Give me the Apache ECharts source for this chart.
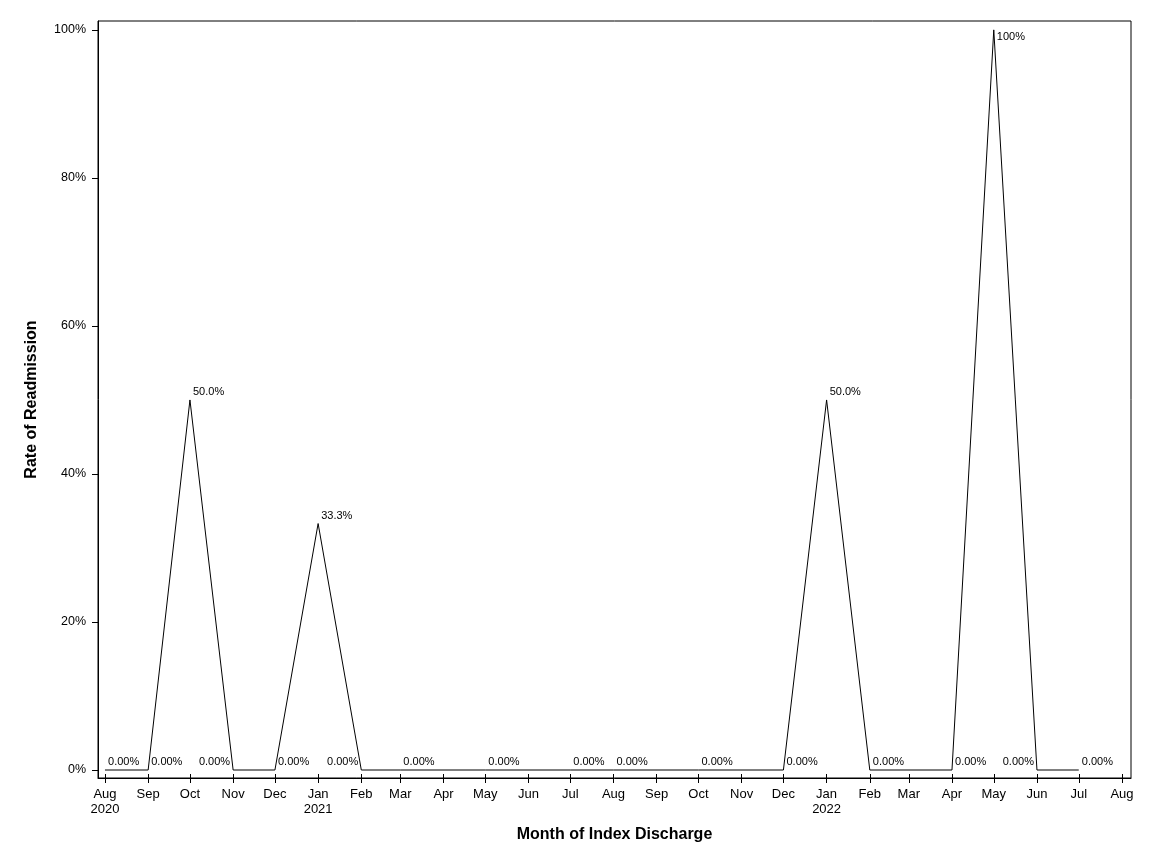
<!DOCTYPE html>
<html>
<head>
<meta charset="utf-8">
<script src="https://cdn.jsdelivr.net/npm/echarts@6/dist/echarts.min.js"></script>
<style>
  html, body { margin: 0; padding: 0; background: #fff; }
  #chart { width: 1152px; height: 864px; }
</style>
</head>
<body>
<div id="chart"></div>
<script>
// months with an index discharge (YYYY-MM) and readmission rate in percent
const months = ['2020-08', '2020-09', '2020-10', '2020-11', '2020-12', '2021-01', '2021-02',
    '2021-03', '2021-05', '2021-07', '2021-08', '2021-10', '2021-12',
    '2022-01', '2022-02', '2022-04', '2022-05', '2022-06', '2022-07'];
const rates = [0, 0, 50, 0, 0, 33.3, 0,
    0, 0, 0, 0, 0, 0,
    50, 0, 0, 100, 0, 0];

// x tick labels, one per month starting Aug 2020
const tickLabels = ['Aug\n2020', 'Sep', 'Oct', 'Nov', 'Dec', 'Jan\n2021', 'Feb', 'Mar', 'Apr', 'May', 'Jun', 'Jul',
    'Aug', 'Sep', 'Oct', 'Nov', 'Dec', 'Jan\n2022', 'Feb', 'Mar', 'Apr', 'May', 'Jun', 'Jul', 'Aug'];
const yTicks = [0, 20, 40, 60, 80, 100];

const toTime = function (ym) {
    let parts = ym.split('-');
    return Date.UTC(+parts[0], +parts[1] - 1, 1);
};

const tickTimes = tickLabels.map((l, i) => Date.UTC(2020, 7 + i, 1));
const tickText = {};
tickTimes.forEach((t, i) => { tickText[t] = tickLabels[i]; });

// labels that SAS moved: to the left of the point, or below it at the top edge
const labelLeft = ['2020-11', '2021-02', '2022-06'];
const labelBelow = ['2022-05'];

const fmtRate = function (v) {
    return (v === 100 ? '100' : v.toPrecision(3)) + '%';
};

const seriesData = months.map((m, i) => {
    let left = labelLeft.indexOf(m) >= 0;
    let dy = labelBelow.indexOf(m) >= 0 ? 7 : -8;
    return {
        value: [toTime(m), rates[i]],
        label: {
            position: left ? 'left' : 'right',
            distance: 3,
            offset: [0, dy]
        }
    };
});

// time range kept as plain numbers on a value axis
const xMin = Date.UTC(2020, 6, 27);
const xMax = Date.UTC(2022, 7, 7, 12);
const font = '"Liberation Sans", Arial, sans-serif';

const chart = echarts.init(document.getElementById('chart'), null, { renderer: 'canvas' });

chart.setOption({
    animation: false,
    backgroundColor: '#fff',
    textStyle: { fontFamily: font, color: '#000' },
    grid: {
        left: 98,
        right: 21,
        top: 21,
        bottom: 86,
        show: true,
        borderColor: '#000',
        borderWidth: 1,
        backgroundColor: 'transparent'
    },
    xAxis: [{
        type: 'value',
        min: xMin,
        max: xMax,
        position: 'bottom',
        name: 'Month of Index Discharge',
        nameLocation: 'middle',
        nameGap: 49,
        nameTextStyle: { fontSize: 16, fontWeight: 'bold', color: '#000', fontFamily: font },
        axisLine: { show: true, onZero: false, lineStyle: { color: '#000', width: 1 } },
        axisTick: {
            show: true,
            inside: false,
            length: 5,
            customValues: tickTimes,
            lineStyle: { color: '#000' }
        },
        axisLabel: {
            customValues: tickTimes,
            margin: 9,
            fontSize: 13,
            lineHeight: 15,
            color: '#000',
            fontFamily: font,
            hideOverlap: false,
            formatter: function (v) { return tickText[v] || ''; }
        },
        splitLine: { show: false }
    }, {
        // short inner half of the crossing x ticks
        type: 'value',
        min: xMin,
        max: xMax,
        position: 'bottom',
        offset: 0,
        axisLine: { show: false, onZero: false },
        axisTick: {
            show: true,
            inside: true,
            length: 4,
            customValues: tickTimes,
            lineStyle: { color: '#000' }
        },
        axisLabel: { show: false },
        splitLine: { show: false }
    }],
    yAxis: {
        type: 'value',
        min: -1.08,
        max: 101.2,
        name: 'Rate of Readmission',
        nameLocation: 'middle',
        nameGap: 58,
        nameTextStyle: { fontSize: 16, fontWeight: 'bold', color: '#000', fontFamily: font },
        axisLine: { show: true, onZero: false, lineStyle: { color: '#000', width: 1 } },
        axisTick: {
            show: true,
            length: 6,
            customValues: yTicks,
            lineStyle: { color: '#000' }
        },
        axisLabel: {
            customValues: yTicks,
            margin: 12,
            fontSize: 12.5,
            color: '#000',
            fontFamily: font,
            formatter: function (v) { return v + '%'; }
        },
        splitLine: { show: false }
    },
    series: [{
        type: 'line',
        xAxisIndex: 0,
        symbol: 'circle',
        symbolSize: 0.1,
        showSymbol: true,
        itemStyle: { color: '#000' },
        lineStyle: { color: '#000', width: 1 },
        label: {
            show: true,
            fontSize: 11,
            color: '#000',
            fontFamily: font,
            formatter: function (p) { return fmtRate(p.value[1]); }
        },
        emphasis: { disabled: true },
        data: seriesData
    }]
});
</script>
</body>
</html>
